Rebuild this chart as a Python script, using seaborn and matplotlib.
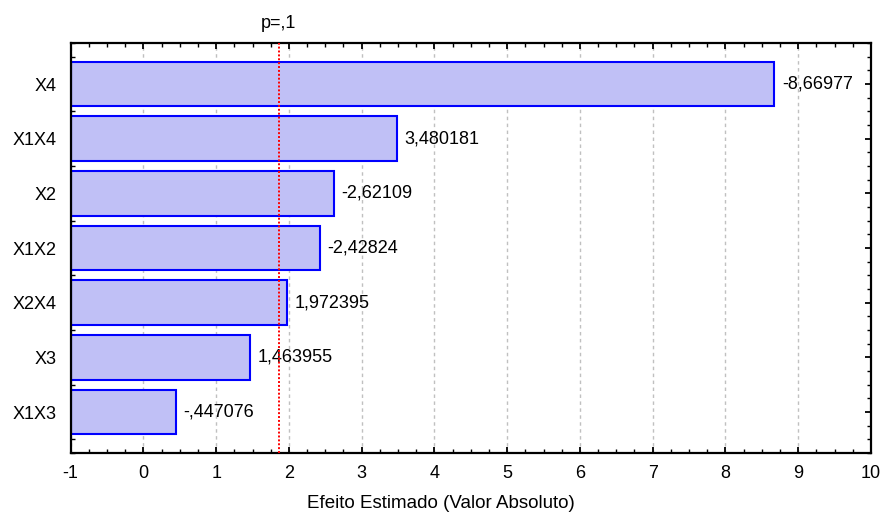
import numpy as np
import pandas as pd
import matplotlib
matplotlib.use("Agg")
import matplotlib.pyplot as plt
from matplotlib.ticker import MultipleLocator
import seaborn as sns

# ---- data ----
factors = ["X4", "X1X4", "X2", "X1X2", "X2X4", "X3", "X1X3"]
effects = [-8.66977, 3.480181, -2.62109, -2.42824, 1.972395, 1.463955, -0.447076]
effect_labels = ["-8,66977", "3,480181", "-2,62109", "-2,42824", "1,972395", "1,463955", "-,447076"]
p_critical = 1.8595
p_label = "p=,1"
x_ticks = list(range(-1, 11))
x_title = "Efeito Estimado (Valor Absoluto)"

sns.set_theme(style="white")
plt.rcParams["font.family"] = ["Liberation Sans", "DejaVu Sans"]
plt.rcParams["text.color"] = "black"
plt.rcParams["axes.labelcolor"] = "black"

df = pd.DataFrame({"factor": factors, "abs_effect": np.abs(effects)})

fig = plt.figure(figsize=(8.8, 5.12), dpi=100)
ax = fig.add_axes([0.0803, 0.1152, 0.9094, 0.8008])

xmin, xmax = x_ticks[0], x_ticks[-1]
fs = 13

# grid behind
ax.set_axisbelow(True)
for xv in x_ticks:
    ax.axvline(xv, color="#c0c0c0", lw=1.0, ls=(0, (2.5, 2.5)), zorder=0)

sns.barplot(data=df, x="abs_effect", y="factor", order=factors, orient="h",
            color="#c0c0f6", edgecolor="#0000ff", linewidth=1.5,
            width=0.82, saturation=1, ax=ax, zorder=2)
# bars start at the left axis limit (Statistica style)
for p in ax.patches:
    w = p.get_width()
    p.set_x(xmin)
    p.set_width(w - xmin)

# value labels
for i, (v, lab) in enumerate(zip(np.abs(effects), effect_labels)):
    ax.annotate(lab, xy=(v, i), xytext=(5.5, 0), textcoords="offset points",
                va="center", ha="left", fontsize=fs, color="black")

# critical line
ax.axvline(p_critical, color="#ff0000", lw=1.4, ls=(0, (1, 1)), zorder=3)
ax.annotate(p_label, xy=(p_critical, 1.0), xycoords=("data", "axes fraction"),
            xytext=(0, 14), textcoords="offset points", ha="center", va="center",
            fontsize=fs, color="black")

ax.set_xlim(xmin, xmax)
ax.set_ylim(len(factors) - 0.25, -0.75)
ax.set_xticks(x_ticks)
ax.set_xticklabels([str(t) for t in x_ticks])
ax.xaxis.set_minor_locator(MultipleLocator(0.25))
ax.yaxis.set_minor_locator(MultipleLocator(0.25))
ax.tick_params(axis="both", which="both", direction="in", top=True, right=True,
               left=True, bottom=True, colors="black", labelsize=fs)
ax.tick_params(axis="both", which="major", length=4, width=1.3)
ax.tick_params(axis="both", which="minor", length=3, width=1.0)
ax.tick_params(axis="x", which="major", pad=8.5)
ax.tick_params(axis="y", which="major", pad=10)

ax.set_ylabel("")
ax.set_xlabel(x_title, fontsize=13.5, va="center", color="black")
ax.xaxis.set_label_coords(0.4626, -0.122)

for s in ax.spines.values():
    s.set_visible(True)
    s.set_color("black")
    s.set_linewidth(1.6)

fig.savefig("out.png", dpi=100)
